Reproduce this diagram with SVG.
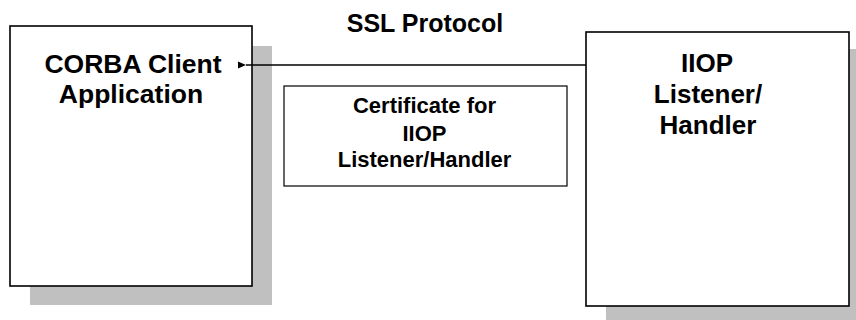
<svg xmlns="http://www.w3.org/2000/svg" width="856" height="320" viewBox="0 0 856 320">
<style>
.shadow{fill:#c0c0c0;stroke:none}
.box{fill:#fff;stroke:#000;stroke-width:1.6}
.cert{fill:#fff;stroke:#000;stroke-width:1.2}
.t{font-family:"Liberation Sans",Arial,sans-serif;fill:#000;text-anchor:middle}
.b{font-weight:bold}
.conn{stroke:#000;stroke-width:1.3;fill:none}
</style>
<defs>
<marker id="ah" markerWidth="10" markerHeight="8" refX="1" refY="4" orient="auto" markerUnits="userSpaceOnUse">
<path d="M1,4 L9,0.5 L9,7.5 Z" fill="#000"/>
</marker>
</defs>
<rect width="856" height="320" fill="#fff"/>
<g id="title">
<text class="t b" x="425" y="32" font-size="25">SSL Protocol</text>
</g>
<g id="corba-client">
<rect class="shadow" x="30" y="46" width="242" height="259"/>
<rect class="box" x="10" y="26" width="242" height="260"/>
<text class="t b" x="133" y="73" font-size="26.5">CORBA Client</text>
<text class="t b" x="131" y="103" font-size="26.5">Application</text>
</g>
<g id="iiop-listener">
<rect class="shadow" x="606" y="49" width="263" height="280"/>
<rect class="box" x="586" y="32" width="263" height="274"/>
<text class="t b" x="707" y="72" font-size="26">IIOP</text>
<text class="t b" x="708" y="103" font-size="26">Listener/</text>
<text class="t b" x="708" y="134" font-size="26">Handler</text>
</g>
<g id="certificate">
<rect class="cert" x="284" y="86" width="283" height="100"/>
<text class="t b" x="424.5" y="113" font-size="22">Certificate for</text>
<text class="t b" x="424.5" y="141" font-size="22">IIOP</text>
<text class="t b" x="424.5" y="167" font-size="22">Listener/Handler</text>
</g>
<g id="connectors">
<line class="conn" x1="586" y1="65" x2="246" y2="65" marker-end="url(#ah)"/>
</g>
</svg>
